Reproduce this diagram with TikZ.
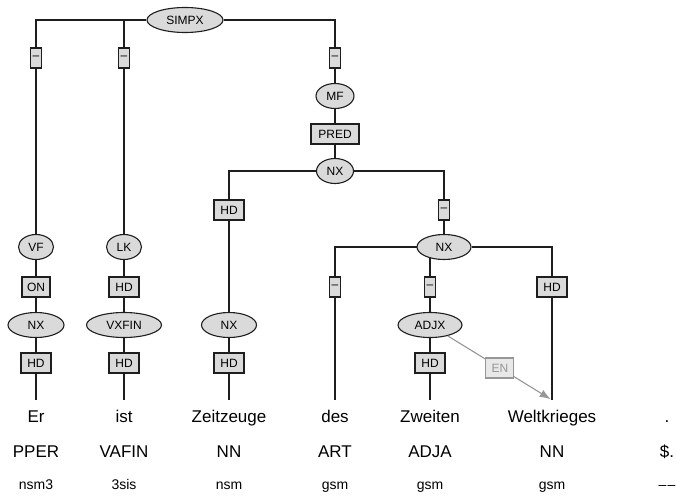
\documentclass[tikz,border=0pt]{standalone}
\usepackage{fontspec}
\setmainfont{Liberation Sans}
\usetikzlibrary{arrows.meta,backgrounds,shapes.geometric}
\definecolor{ink}{RGB}{30,30,30}
\definecolor{soft}{RGB}{218,218,218}
\definecolor{faint}{RGB}{150,150,150}
\definecolor{pale}{RGB}{232,232,232}
\tikzset{
  cat/.style={ellipse,draw=ink,fill=soft,line width=1.1pt,inner sep=0pt,
    minimum height=25pt,font=\fontsize{12}{14}\selectfont},
  fn/.style={draw=ink,fill=soft,line width=1.1pt,inner xsep=0pt,inner ysep=0pt,
    minimum height=20pt,minimum width=30pt,font=\fontsize{12}{14}\selectfont},
  nofn/.style={fn,minimum width=11pt},
  secfn/.style={fn,minimum width=28pt,draw=faint,fill=pale,text=faint},
  tok/.style={anchor=base,font=\fontsize{17}{20}\selectfont},
  morph/.style={anchor=base,font=\fontsize{14}{16}\selectfont},
  edge/.style={ink,line width=1.1pt},
  secarr/.style={faint,line width=1.1pt,-{Latex[length=11pt,width=8pt]},shorten >=1.5pt},
}

\begin{document}
\begin{tikzpicture}[x=1pt,y=-1pt]
  \useasboundingbox (0,0) rectangle (676,495);
  % tokens, tags and morphology
  \foreach \x/\w/\t/\m [count=\i] in {36/Er/PPER/nsm3, 124/ist/VAFIN/3sis,
      229/Zeitzeuge/NN/nsm, 335/des/ART/gsm, 430/Zweiten/ADJA/gsm,
      552/Weltkrieges/NN/gsm, 667/./\$./{–\kern1pt–}} {
    \node[tok] (w\i) at (\x,422) {\w};
    \node[tok] (t\i) at (\x,457) {\t};
    \node[morph] (m\i) at (\x,489) {\m};
    \coordinate (s\i) at (\x,400);
  }
  % categories
  \node[cat,minimum width=76pt] (simpx) at (185,20) {SIMPX};
  \node[cat,minimum width=35pt] (vf) at (36,247) {VF};
  \node[cat,minimum width=35pt] (lk) at (124,247) {LK};
  \node[cat,minimum width=38pt] (mf) at (335,96) {MF};
  \node[cat,minimum width=37pt] (nxp) at (335,171) {NX};
  \node[cat,minimum width=54pt] (nxm) at (444,247) {NX};
  \node[cat,minimum width=56pt] (nx1) at (36,325) {NX};
  \node[cat,minimum width=75pt] (vxfin) at (124,325) {VXFIN};
  \node[cat,minimum width=55pt] (nx3) at (229,325) {NX};
  \node[cat,minimum width=64pt] (adjx) at (430,325) {ADJX};
  % edge labels
  \node[nofn] (e1) at (36,58) {–};
  \node[nofn] (e2) at (124,58) {–};
  \node[nofn] (e3) at (335,58) {–};
  \node[fn,minimum width=48pt] (e0) at (335,134) {PRED};
  \node[fn] (e4) at (229,210) {HD};
  \node[nofn] (e5) at (444,210) {–};
  \node[fn,minimum width=28pt] (e10) at (36,287) {ON};
  \node[fn] (e6) at (124,287) {HD};
  \node[nofn] (e7) at (335,287) {–};
  \node[nofn] (e8) at (430,287) {–};
  \node[fn] (e9) at (552,287) {HD};
  \node[fn] (h1) at (36,363) {HD};
  \node[fn] (h2) at (124,363) {HD};
  \node[fn] (h3) at (229,363) {HD};
  \node[fn] (h5) at (430,363) {HD};
  % tree edges
  \begin{scope}[on background layer]
    \draw[edge] (simpx) -| (vf);
    \draw[edge] (simpx) -| (lk);
    \draw[edge] (simpx) -| (mf);
    \draw[edge] (vf) -- (s1);
    \draw[edge] (lk) -- (s2);
    \draw[edge] (mf) -- (nxp);
    \draw[edge] (nxp) -| (nx3);
    \draw[edge] (nxp) -| (nxm);
    \draw[edge] (nx3) -- (s3);
    \draw[edge] (nxm) -| (s4);
    \draw[edge] (nxm) -| (adjx);
    \draw[edge] (nxm) -| (s6);
    \draw[edge] (adjx) -- (s5);
  \end{scope}
  % secondary edge
  \draw[secarr] (adjx) -- node[secfn] (en) {EN} (s6);
\end{tikzpicture}
\end{document}
